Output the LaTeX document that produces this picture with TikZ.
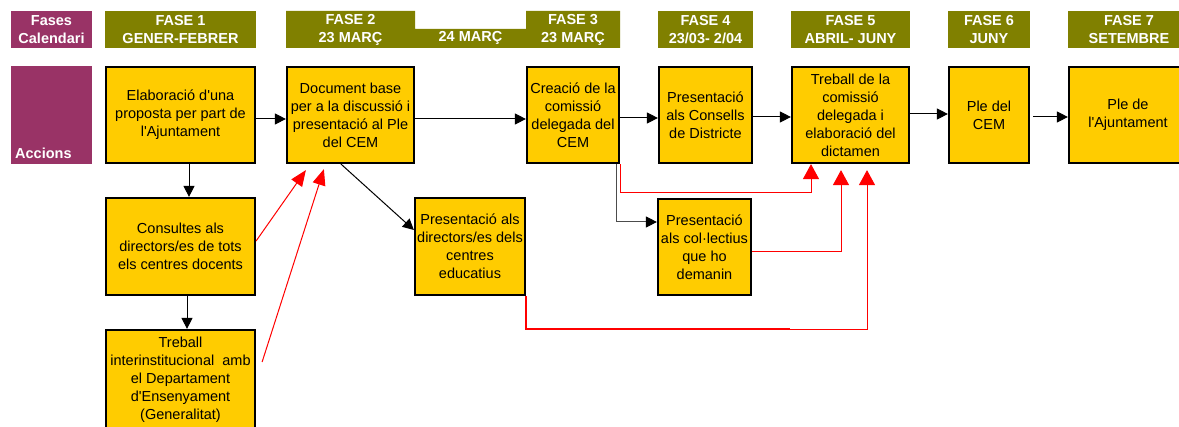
\documentclass[tikz,border=0pt]{standalone}
\usepackage{fontspec}
\setmainfont{Liberation Sans}
\newfontfamily\arialf{Liberation Sans}
\usetikzlibrary{arrows.meta}
\definecolor{gold}{HTML}{FFCC00}
\definecolor{olivec}{HTML}{808000}
\definecolor{purplec}{HTML}{993366}
\definecolor{redc}{HTML}{FF0000}
\begin{document}
\begin{tikzpicture}[x=1pt,y=-1pt,
  txt/.style={font=\arialf\fontsize{14.5}{18}\selectfont, align=center, text=black},
  box/.style={txt, draw=black, line width=2.2pt, fill=gold, inner sep=1pt},
  hdr/.style={fill=olivec, font=\arialf\bfseries\fontsize{14.5}{18}\selectfont, text=white, align=center, inner sep=0pt, minimum height=37pt},
  hdrtxt/.style={font=\arialf\bfseries\fontsize{14.5}{18}\selectfont, text=white, align=center, inner sep=0pt},
  purp/.style={fill=purplec, inner sep=0pt},
  blk/.style={draw=black, line width=1pt, -{Triangle[length=11pt,width=11pt]}},
  gry/.style={draw=black!70, line width=1pt, -{Triangle[length=11pt,width=11pt,color=black]}},
  redv/.style={draw=redc, line width=1pt, -{Triangle[length=15pt,width=16pt]}},
  redd/.style={draw=redc, line width=1pt, -{Triangle[length=16pt,width=13pt]}}
]
\useasboundingbox (0,0) rectangle (1179,427);
\fill[white] (0,0) rectangle (1179,427);

% left labels
\node[purp, hdrtxt, minimum width=81pt, minimum height=37pt] (fc) at (51.5,29.5) {Fases\\Calendari};
\node[purp, minimum width=81pt, minimum height=98pt] (acc) at (51.5,115) {};
\node[hdrtxt, anchor=base west] (acct) at (15,159) {Accions};

% headers
\node[hdr, minimum width=151pt] (f1) at (180.5,29.5) {FASE 1\\GENER-FEBRER};
\fill[olivec] (286,11) -- (415,11) -- (415,29) -- (526,29) -- (526,11) -- (620,11) -- (620,48) -- (286,48) -- cycle;
\node[hdrtxt] (f2) at (350.5,29.5) {FASE 2\\23 MARÇ};
\node[hdrtxt] (f2b) at (470.5,38) {24 MARÇ};
\node[hdrtxt] (f3) at (573,29.5) {FASE 3\\23 MARÇ};
\node[hdr, minimum width=95pt] (f4) at (705.5,29.5) {FASE 4\\23/03- 2/04};
\node[hdr, minimum width=119pt] (f5) at (850.5,29.5) {FASE 5\\ABRIL- JUNY};
\node[hdr, minimum width=82pt] (f6) at (989,29.5) {FASE 6\\JUNY};
\node[hdr, minimum width=122pt] (f7) at (1129,29.5) {FASE 7\\SETEMBRE};

% main row
\node[box, minimum width=149pt, minimum height=96pt] (elab) at (180.5,115) {Elaboració d'una\\proposta per part de\\l'Ajuntament};
\node[box, minimum width=127pt, minimum height=96pt] (doc) at (350.5,115) {Document base\\per a la discussió i\\presentació al Ple\\del CEM};
\node[box, minimum width=92pt, minimum height=96pt] (crea) at (573,115) {Creació de la\\comissió\\delegada del\\CEM};
\node[box, minimum width=93pt, minimum height=96pt] (cons) at (705.5,115) {Presentació\\als Consells\\de Districte};
\node[box, minimum width=117pt, minimum height=96pt] (treb) at (850.5,115) {Treball de la\\comissió\\delegada i\\elaboració del\\dictamen};
\node[box, minimum width=80pt, minimum height=96pt] (plecem) at (989,115) {Ple del\\CEM};
\node[box, minimum width=118pt, minimum height=96pt] (pleaj) at (1128,115) {Ple de\\l'Ajuntament};

% lower rows
\node[box, minimum width=149pt, minimum height=97pt] (consu) at (180.5,246.5) {Consultes als\\directors/es de tots\\els centres docents};
\node[box, minimum width=149pt, minimum height=99pt] (interi) at (180.5,379.5) {Treball\\interinstitucional\ \ amb\\el Departament\\d'Ensenyament\\(Generalitat)};
\node[box, minimum width=110pt, minimum height=97pt] (dirs) at (470,246.5) {Presentació als\\directors/es dels\\centres\\educatius};
\node[box, minimum width=93pt, minimum height=96pt] (colle) at (704.5,247) {Presentació\\als col·lectius\\que ho\\demanin};

% black connectors
\draw[blk] ([yshift=-4pt]elab.east) -- ([yshift=-4pt]doc.west);
\draw[blk] ([yshift=-4pt]doc.east) -- ([yshift=-4pt]crea.west);
\draw[blk] ([yshift=-3pt]crea.east) -- ([yshift=-3pt]cons.west);
\draw[blk] ([yshift=-2pt]cons.east) -- ([yshift=-2pt]treb.west);
\draw[blk] ([yshift=1pt]treb.east) -- ([yshift=1pt]plecem.west);
\draw[blk, shorten <=3pt] ([yshift=-2pt]plecem.east) -- ([yshift=-2pt]pleaj.west);
\draw[blk] ([xshift=8.5pt]elab.south) -- ([xshift=8.5pt]consu.north);
\draw[blk] ([xshift=6.5pt]consu.south) -- ([xshift=6.5pt]interi.north);
\draw[blk] ([xshift=-9.5pt]doc.south) -- ([yshift=16.5pt]dirs.west);
\draw[gry] ([xshift=-4pt]crea.south east) |- ([yshift=25pt]colle.west);

% red connectors
\draw[redd] ([yshift=5.5pt]consu.east) -- ([xshift=20pt,yshift=-6pt]doc.south west);
\draw[redd] ([xshift=6pt,yshift=17.5pt]interi.east) -- ([xshift=38pt,yshift=-5pt]doc.south west);
\draw[redv] (crea.south east) -- ++(0,28) -| ([xshift=-39.5pt]treb.south);
\draw[redv] ([yshift=-5pt]colle.east) -| ([xshift=-9.5pt,yshift=-6pt]treb.south);
\draw[redv] (dirs.south east) -- ++(0,33) -| ([xshift=16.5pt,yshift=-6pt]treb.south);
\draw[redc, line width=2pt] (dirs.south east) -- ++(0,33) -- ++(264,0);
\end{tikzpicture}
\end{document}
